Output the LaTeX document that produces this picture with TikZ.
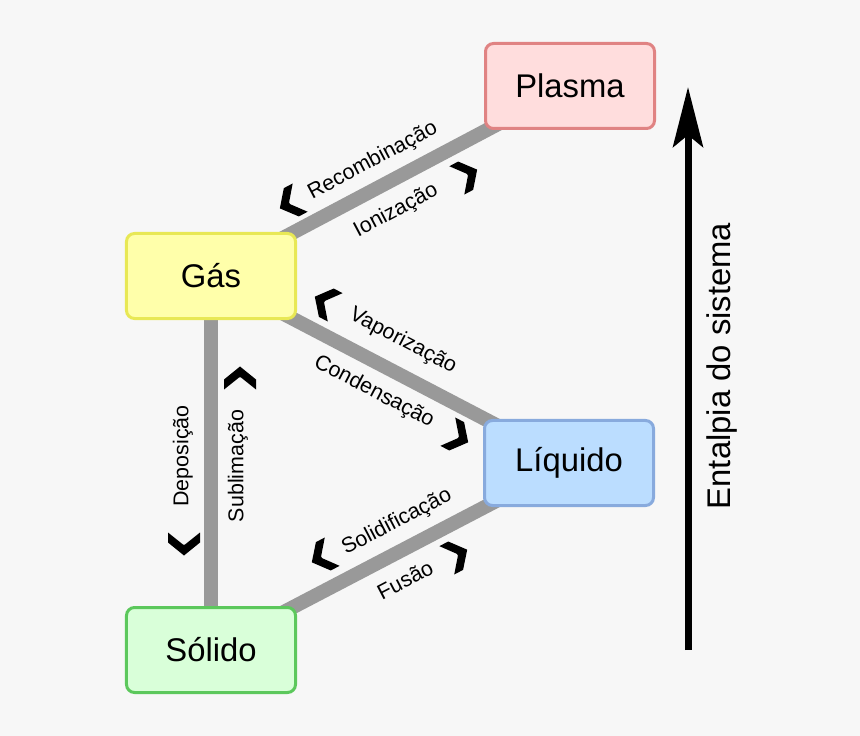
\documentclass[tikz,border=0pt]{standalone}
\usepackage{fontspec}
\setmainfont{Liberation Sans}
\usetikzlibrary{arrows.meta,backgrounds}

\definecolor{bgcol}{HTML}{F7F7F7}
\definecolor{linkgray}{HTML}{999999}
\definecolor{plasmafill}{HTML}{FFDDDD}
\definecolor{plasmadraw}{HTML}{E08383}
\definecolor{gasfill}{HTML}{FFFFAA}
\definecolor{gasdraw}{HTML}{E8E855}
\definecolor{liqfill}{HTML}{BBDDFF}
\definecolor{liqdraw}{HTML}{88AADD}
\definecolor{solfill}{HTML}{D9FFD9}
\definecolor{soldraw}{HTML}{5CC85C}

\begin{document}
\begin{tikzpicture}[x=0.03cm,y=-0.03cm,
    state/.style={draw, line width=0.09cm, rounded corners=0.24cm,
        minimum width=5.07cm, minimum height=2.55cm,
        font=\fontsize{28}{33}\selectfont},
    link/.style={line width=0.42cm, draw=linkgray},
    lbl/.style={font=\fontsize{18.3}{22}\selectfont, inner sep=0pt},
    chev/.pic={\fill (11.5,0) -- (-1.5,16) -- (-11.5,16) -- (0.5,1)
        -- (0.5,-1) -- (-11.5,-16) -- (-1.5,-16) -- cycle;}]

    % estados
    \node[state, fill=plasmafill, draw=plasmadraw] (plasma) at (570,86) {Plasma};
    \node[state, fill=gasfill, draw=gasdraw] (gas) at (211,276) {Gás};
    \node[state, fill=liqfill, draw=liqdraw] (liquido) at (569,463) {Líquido};
    \node[state, fill=solfill, draw=soldraw] (solido) at (211,650) {Sólido};

    \begin{pgfonlayer}{background}
        \fill[bgcol] (0,0) rectangle (860,736);
        \draw[link] (gas.center) -- (plasma.center);
        \draw[link] (gas.center) -- (liquido.center);
        \draw[link] (gas.center) -- (solido.center);
        \draw[link] (solido.center) -- (liquido.center);
    \end{pgfonlayer}

    % gas - plasma
    \node[lbl, rotate=27.9] (recomb) at (373,161) {Recombinação};
    \node[lbl, rotate=27.9] (ioniz) at (396,211) {Ionização};
    \pic[rotate=207.9] at (290,203) {chev};
    \pic[rotate=27.9] at (467,175) {chev};

    % gas - liquido
    \node[lbl, rotate=-27.6] (vapor) at (403,341) {Vaporização};
    \node[lbl, rotate=-27.6] (conden) at (374,392) {Condensação};
    \pic[rotate=152.4] at (325,302) {chev};
    \pic[rotate=-27.6] at (458,437) {chev};

    % gas - solido
    \node[lbl, rotate=90] (depos) at (183,456) {Deposição};
    \node[lbl, rotate=90] (sublim) at (238,466) {Sublimação};
    \pic[rotate=90] at (240,378) {chev};
    \pic[rotate=-90] at (184,544) {chev};

    % solido - liquido
    \node[lbl, rotate=27.6] (solidif) at (397,522) {Solidificação};
    \node[lbl, rotate=27.6] (fusao) at (405,580) {Fusão};
    \pic[rotate=207.6] at (322,557) {chev};
    \pic[rotate=27.6] at (457,555) {chev};

    % entalpia
    \coordinate (ebase) at (688,650);
    \coordinate (etop) at (688,87);
    \draw[-{Stealth[length=1.8cm,width=0.9cm,inset=0.36cm]}, line width=0.21cm] (ebase) -- (etop);
    \node[rotate=90, anchor=base, font=\fontsize{28}{33}\selectfont] (entalpia) at (730,366) {Entalpia do sistema};
\end{tikzpicture}
\end{document}
